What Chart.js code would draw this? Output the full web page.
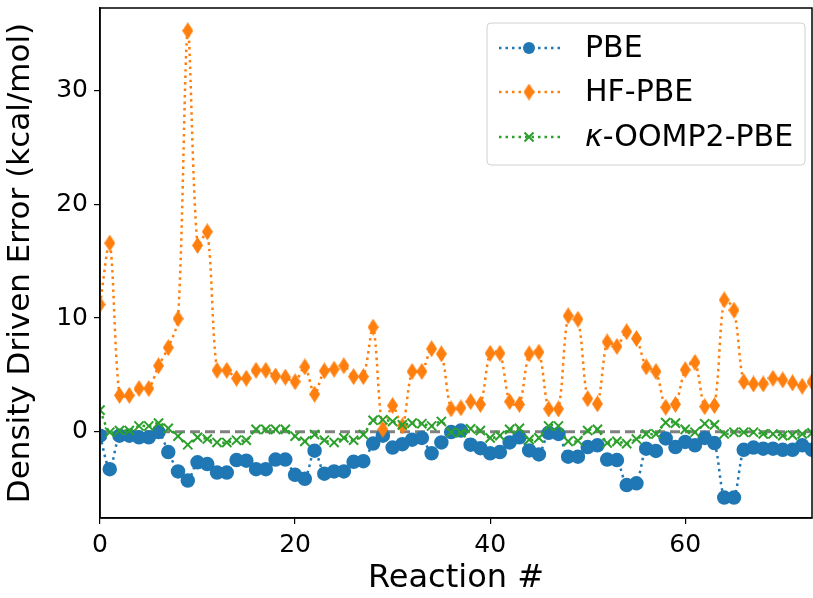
<!DOCTYPE html>
<html>
<head>
<meta charset="utf-8">
<script src="https://cdn.jsdelivr.net/npm/chart.js@4/dist/chart.umd.min.js"></script>
<style>
  html, body { margin:0; padding:0; background:#fff; overflow:hidden; }
  #wrap { width:813px; height:598px; }
</style>
</head>
<body>
<div id="wrap"><canvas id="chart"></canvas></div>
<script>
// ── Data ──────────────────────────────────────────────────────
const xTicks = [0, 20, 40, 60];
const yTicks = [0, 10, 20, 30];
const seriesNames = ['PBE', 'HF-PBE', 'κ-OOMP2-PBE'];

const pbe = [
  -0.35,-3.3,-0.35,-0.35,-0.5,-0.5,-0.03,-1.8,-3.5,-4.3,
  -2.7,-2.85,-3.6,-3.6,-2.5,-2.55,-3.3,-3.3,-2.45,-2.45,
  -3.8,-4.15,-1.67,-3.7,-3.5,-3.5,-2.65,-2.6,-1.05,-0.35,
  -1.4,-1.1,-0.7,-0.55,-1.9,-0.95,-0.03,0.1,-1.15,-1.45,
  -1.9,-1.8,-0.95,-0.5,-1.65,-2.0,-0.1,-0.2,-2.2,-2.2,
  -1.35,-1.2,-2.45,-2.5,-4.7,-4.55,-1.5,-1.7,-0.6,-1.35,
  -0.9,-1.2,-0.55,-1.0,-5.8,-5.8,-1.6,-1.4,-1.5,-1.5,
  -1.6,-1.6,-1.2,-1.6
];
const hfPbe = [
  11.2,16.6,3.2,3.2,3.8,3.8,5.8,7.4,9.95,35.3,
  16.4,17.6,5.4,5.4,4.7,4.7,5.4,5.4,4.9,4.8,
  4.4,5.7,3.3,5.35,5.5,5.8,4.85,4.85,9.2,0.2,
  2.3,0.5,5.3,5.3,7.3,6.85,2.0,2.1,2.65,2.4,
  6.9,6.9,2.65,2.4,6.85,7.0,2.0,2.0,10.2,9.9,
  2.9,2.45,7.9,7.5,8.8,8.2,5.7,5.3,2.15,2.4,
  5.45,6.1,2.2,2.3,11.6,10.7,4.4,4.2,4.2,4.7,
  4.55,4.3,4.0,4.4
];
const oomp2 = [
  1.9,-0.05,0.1,0.1,0.5,0.5,0.75,0.3,-0.4,-1.15,
  -0.5,-0.65,-0.95,-0.95,-0.75,-0.75,0.2,0.2,0.2,0.2,
  -0.4,-0.85,-0.25,-0.75,-0.95,-0.55,-0.75,-0.25,1.0,1.05,
  0.9,0.6,0.75,0.7,0.5,0.9,-0.05,-0.1,0.25,0.1,
  -0.55,-0.35,0.2,0.3,-0.7,-0.55,0.5,0.5,-0.85,-0.8,
  0.1,0.2,-1.0,-0.85,-1.05,-0.65,-0.2,-0.2,0.8,0.75,
  0.2,-0.05,0.7,0.6,-0.2,-0.05,-0.05,-0.05,-0.2,-0.2,
  -0.35,-0.3,-0.2,-0.1
];

// ── Style ─────────────────────────────────────────────────────
const C = { blue:'#1f77b4', orange:'#ff7f0e', green:'#2ca02c', zero:'#808080' };
const FONT = 'DejaVu Sans';
const DOT = [2.5, 4];

// thin diamond marker (matplotlib 'd')
function thinDiamond(w, h, color) {
  const cv = document.createElement('canvas');
  cv.width = w; cv.height = h;
  const g = cv.getContext('2d');
  g.fillStyle = color;
  g.beginPath();
  g.moveTo(w/2, 0); g.lineTo(w, h/2); g.lineTo(w/2, h); g.lineTo(0, h/2);
  g.closePath(); g.fill();
  return cv;
}
const diamond = thinDiamond(11, 17, C.orange);

const pts = arr => arr.map((y, i) => ({ x:i, y }));

function series(label, data, color, extra) {
  return Object.assign({
    label, data:pts(data), borderColor:color, backgroundColor:color,
    borderWidth:2.5, borderDash:DOT, tension:0.3, fill:false,
    pointBorderColor:color, pointBackgroundColor:color, pointHoverRadius:0,
  }, extra);
}

// ── Plugins ───────────────────────────────────────────────────
const zeroLine = {
  id:'zeroLine',
  beforeDatasetsDraw(chart) {
    const { ctx, chartArea:a, scales:{ y } } = chart;
    const py = y.getPixelForValue(0);
    ctx.save();
    ctx.strokeStyle = C.zero; ctx.lineWidth = 3; ctx.setLineDash([10, 5]);
    ctx.beginPath(); ctx.moveTo(a.left, py); ctx.lineTo(a.right, py); ctx.stroke();
    ctx.restore();
  }
};

const frame = {
  id:'frame',
  afterDraw(chart) {
    const { ctx, chartArea:a } = chart;
    ctx.save();
    ctx.strokeStyle = '#000'; ctx.lineWidth = 1.5;
    ctx.strokeRect(a.left, a.top, a.right - a.left, a.bottom - a.top);
    ctx.restore();
  }
};

const mplLegend = {
  id:'mplLegend',
  afterDraw(chart) {
    const { ctx } = chart;
    const box = { x:487, y:23, w:318, h:142 };
    ctx.save();
    ctx.fillStyle = 'rgba(255,255,255,0.8)';
    ctx.strokeStyle = '#d0d0d0'; ctx.lineWidth = 1;
    ctx.beginPath();
    ctx.roundRect(box.x, box.y, box.w, box.h, 4);
    ctx.fill(); ctx.stroke();

    const colors = [C.blue, C.orange, C.green];
    const rows = [48, 92, 137];
    rows.forEach((ry, i) => {
      ctx.strokeStyle = colors[i]; ctx.lineWidth = 2.5; ctx.setLineDash(DOT);
      ctx.beginPath(); ctx.moveTo(499, ry); ctx.lineTo(560, ry); ctx.stroke();
      ctx.setLineDash([]);
      ctx.fillStyle = colors[i];
      if (i === 0) { ctx.beginPath(); ctx.arc(529, ry, 6, 0, Math.PI*2); ctx.fill(); }
      else if (i === 1) { ctx.drawImage(diamond, 529 - 5.5, ry - 8.5); }
      else {
        ctx.lineWidth = 2;
        ctx.beginPath();
        ctx.moveTo(524.5, ry-4.5); ctx.lineTo(533.5, ry+4.5);
        ctx.moveTo(533.5, ry-4.5); ctx.lineTo(524.5, ry+4.5);
        ctx.stroke();
      }
      ctx.fillStyle = '#000';
      ctx.textBaseline = 'middle';
      let tx = 585, label = seriesNames[i];
      if (label.startsWith('κ')) {
        ctx.font = `italic 30px "${FONT}"`;
        ctx.fillText('κ', tx, ry + 1);
        tx += ctx.measureText('κ').width;
        label = label.slice(1);
      }
      ctx.font = `30px "${FONT}"`;
      ctx.fillText(label, tx, ry + 1);
    });
    ctx.restore();
  }
};

// ── Chart ─────────────────────────────────────────────────────
const keepTicks = list => scale => {
  scale.ticks = list.map(v => ({ value:v }));
};

new Chart(document.getElementById('chart'), {
  type:'line',
  data:{
    datasets:[
      series(seriesNames[0], pbe, C.blue, { pointStyle:'circle', pointRadius:6, order:2 }),
      series(seriesNames[1], hfPbe, C.orange, { pointStyle:diamond, pointRadius:8, order:1 }),
      series(seriesNames[2], oomp2, C.green, { pointStyle:'crossRot', pointRadius:6.5, pointBorderWidth:2, order:0 }),
    ]
  },
  options:{
    responsive:true, maintainAspectRatio:false, animation:false,
    layout:{ autoPadding:false, padding:{ top:8, right:1, left:0, bottom:0 } },
    plugins:{ legend:{ display:false }, tooltip:{ enabled:false } },
    scales:{
      x:{
        type:'linear', min:0, max:73,
        afterBuildTicks:keepTicks(xTicks),
        afterFit(s) { s.height = 80; s.paddingLeft = 0; s.paddingRight = 0; },
        grid:{ drawOnChartArea:false, drawTicks:true, tickLength:6, color:'#000', lineWidth:1.2 },
        border:{ display:true, color:'#000', width:1.5 },
        ticks:{ color:'#000', font:{ family:FONT, size:25 }, padding:6, maxRotation:0 },
        title:{ display:true, text:'Reaction #', color:'#000', font:{ family:FONT, size:32 }, padding:{ top:4, bottom:0 } },
      },
      y:{
        type:'linear', min:-7.6, max:37.3,
        afterBuildTicks:keepTicks(yTicks),
        afterFit(s) { s.width = 100; s.paddingTop = 0; s.paddingBottom = 0; },
        grid:{ drawOnChartArea:false, drawTicks:true, tickLength:6, color:'#000', lineWidth:1.2 },
        border:{ display:true, color:'#000', width:1.5 },
        ticks:{ color:'#000', font:{ family:FONT, size:25 }, padding:6 },
        title:{ display:true, text:'Density Driven Error (kcal/mol)', color:'#000', font:{ family:FONT, size:31 }, padding:{ top:2, bottom:0 } },
      }
    }
  },
  plugins:[zeroLine, frame, mplLegend]
});
</script>
</body>
</html>
